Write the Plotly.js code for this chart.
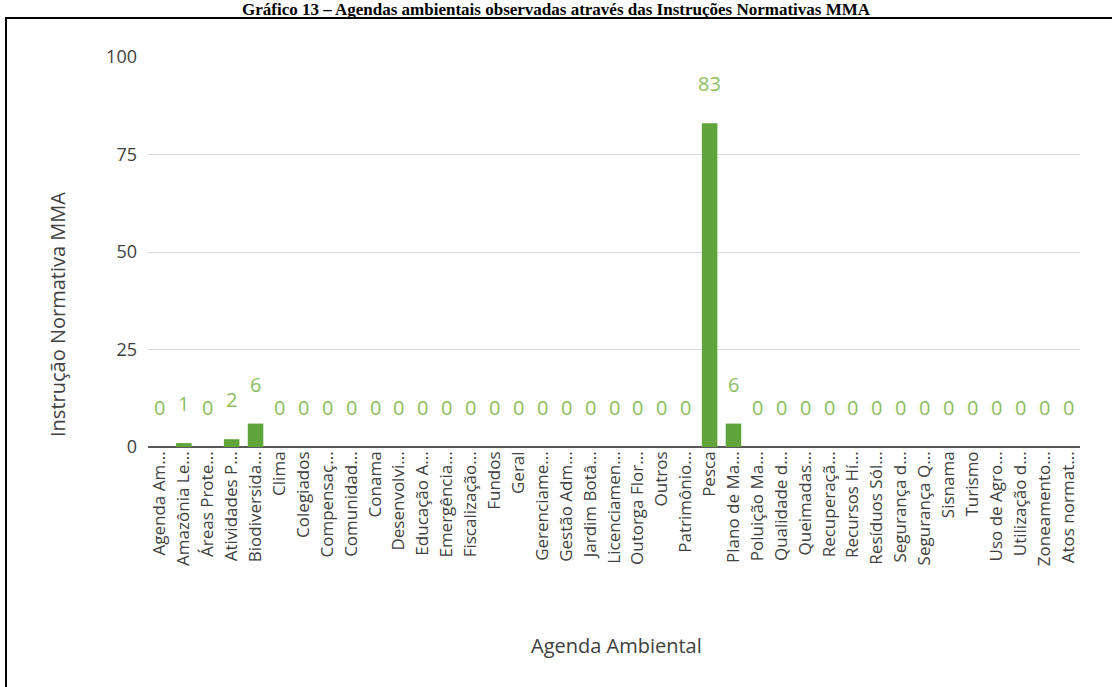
<!DOCTYPE html>
<html><head><meta charset="utf-8">
<script src="https://cdn.plot.ly/plotly-3.0.1.min.js"></script>
<style>html,body{margin:0;padding:0;background:#fff;overflow:hidden}
#frame{position:absolute;left:5px;top:17px;width:1120px;height:700px;border:2px solid #000;pointer-events:none;box-sizing:border-box}
</style></head><body>
<div id="chart" style="width:1112px;height:687px"></div>
<div id="frame"></div>
<script>
const categories = ["Agenda Am...","Amazônia Le...","Áreas Prote...","Atividades P...","Biodiversida...","Clima","Colegiados","Compensaç...","Comunidad...","Conama","Desenvolvi...","Educação A...","Emergência...","Fiscalização...","Fundos","Geral","Gerenciame...","Gestão Adm...","Jardim Botâ...","Licenciamen...","Outorga Flor...","Outros","Patrimônio...","Pesca","Plano de Ma...","Poluição Ma...","Qualidade d...","Queimadas...","Recuperaçã...","Recursos Hí...","Resíduos Sól...","Segurança d...","Segurança Q...","Sisnama","Turismo","Uso de Agro...","Utilização d...","Zoneamento...","Atos normat..."];
const values = [0,1,0,2,6,0,0,0,0,0,0,0,0,0,0,0,0,0,0,0,0,0,0,83,6,0,0,0,0,0,0,0,0,0,0,0,0,0,0];
const yTicks = [0,25,50,75,100];
const titleText = "Gráfico 13 – Agendas ambientais observadas através das Instruções Normativas MMA";
const xTitle = "Agenda Ambiental";
const yTitle = "Instrução Normativa MMA";

const FONT = 'Open Sans, sans-serif';
const annotations = categories.map((c,i)=>({
  x:c, y:values[i], xref:'x', yref:'y', text:String(values[i]), showarrow:false,
  yanchor:'bottom', yshift:24, font:{family:FONT, size:20, color:'#8BBE63'}
}));
annotations.push({xref:'paper',yref:'paper',x:0.503,y:-0.508,text:xTitle,showarrow:false,
  xanchor:'center',yanchor:'middle',font:{family:FONT,size:20,color:'#404040'}});
annotations.push({xref:'paper',yref:'paper',x:-0.097,y:0.34,text:yTitle,showarrow:false,textangle:-90,
  xanchor:'center',yanchor:'middle',font:{family:FONT,size:20,color:'#404040'}});

Plotly.newPlot('chart',[{
  type:'bar', x:categories, y:values,
  marker:{color:'#5FA53C'}, hoverinfo:'none'
}],{
  width:1112, height:687,
  margin:{l:148,r:32,t:57,b:240},
  paper_bgcolor:'#fff', plot_bgcolor:'#fff',
  bargap:0.35,
  showlegend:false,
  title:{text:'<b>'+titleText+'</b>', x:0.5, xref:'container', y:0.987, yref:'container', yanchor:'middle',
    font:{family:'Liberation Serif, Times New Roman, serif', size:17, color:'#000'}},
  xaxis:{type:'category', tickangle:-90, tickfont:{family:FONT,size:17,color:'#404040'},
    showgrid:false, showline:false, ticks:'', zeroline:false, automargin:false},
  yaxis:{range:[0,100], tickvals:yTicks, ticktext:yTicks.map(String), showgrid:true, gridcolor:'#d9d9d9', gridwidth:1,
    zeroline:true, zerolinecolor:'#595959', zerolinewidth:1.5, showline:false, ticks:'',
    ticklabelstandoff:10,
    tickfont:{family:FONT,size:18,color:'#404040'},
    automargin:false},
  annotations:annotations
},{staticPlot:true});
</script></body></html>
